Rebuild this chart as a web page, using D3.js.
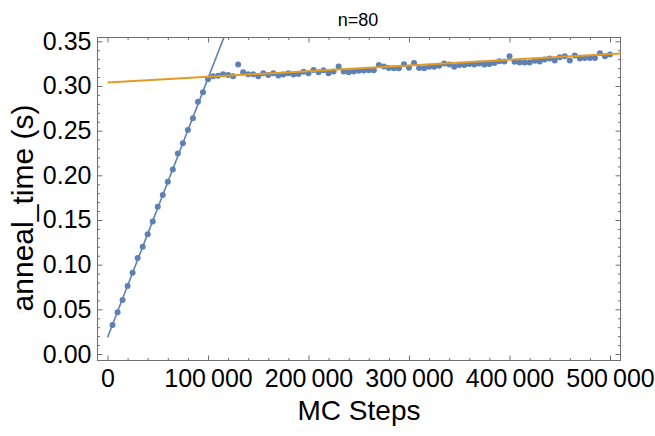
<!DOCTYPE html>
<html>
<head>
<meta charset="utf-8">
<script src="https://cdn.jsdelivr.net/npm/d3@7"></script>
<style>
  html, body { margin: 0; padding: 0; background: #fff; }
  svg { display: block; font-family: "Liberation Sans", Arial, sans-serif; }
</style>
</head>
<body>
<svg id="chart" width="655" height="436"></svg>
<script>
// ---- data ----
const title = "n=80";
const xLabel = "MC Steps";
const yLabel = "anneal_time (s)";

const mcSteps = [
  5000, 10000, 15000, 20000, 25000, 30000, 35000, 40000, 45000, 50000,
  55000, 60000, 65000, 70000, 75000, 80000, 85000, 90000, 95000, 100000,
  105000, 110000, 115000, 120000, 125000, 130000, 135000, 140000, 145000, 150000,
  155000, 160000, 165000, 170000, 175000, 180000, 185000, 190000, 195000, 200000,
  205000, 210000, 215000, 220000, 225000, 230000, 235000, 240000, 245000, 250000,
  255000, 260000, 265000, 270000, 275000, 280000, 285000, 290000, 295000, 300000,
  305000, 310000, 315000, 320000, 325000, 330000, 335000, 340000, 345000, 350000,
  355000, 360000, 365000, 370000, 375000, 380000, 385000, 390000, 395000, 400000,
  405000, 410000, 415000, 420000, 425000, 430000, 435000, 440000, 445000, 450000,
  455000, 460000, 465000, 470000, 475000, 480000, 485000, 490000, 495000, 500000
];
const annealTime = [
  0.0324, 0.0466, 0.0604, 0.0761, 0.0909, 0.1074, 0.1200, 0.1339, 0.1484, 0.1648,
  0.1779, 0.1927, 0.2066, 0.2245, 0.2360, 0.2506, 0.2640, 0.2822, 0.2931, 0.3076,
  0.3110, 0.3113, 0.3132, 0.3124, 0.3110, 0.3240, 0.3154, 0.3132, 0.3132, 0.3110,
  0.3143, 0.3124, 0.3143, 0.3117, 0.3129, 0.3143, 0.3129, 0.3135, 0.3158, 0.3143,
  0.3180, 0.3154, 0.3177, 0.3143, 0.3162, 0.3218, 0.3162, 0.3154, 0.3162, 0.3169,
  0.3173, 0.3177, 0.3177, 0.3236, 0.3218, 0.3202, 0.3199, 0.3199, 0.3244, 0.3205,
  0.3258, 0.3202, 0.3199, 0.3214, 0.3214, 0.3225, 0.3252, 0.3240, 0.3214, 0.3236,
  0.3236, 0.3247, 0.3240, 0.3252, 0.3240, 0.3247, 0.3258, 0.3277, 0.3274, 0.3333,
  0.3270, 0.3263, 0.3263, 0.3263, 0.3281, 0.3274, 0.3296, 0.3308, 0.3285, 0.3322,
  0.3333, 0.3285, 0.3341, 0.3308, 0.3314, 0.3314, 0.3314, 0.3367, 0.3333, 0.3352
];

// fitted lines (endpoints)
const steepFitX = [0, 130000];
const steepFitY = [0.0185, 0.3955];
const flatFitX = [0, 520000];
const flatFitY = [0.304, 0.337];

const xMajorTicks = [0, 100000, 200000, 300000, 400000, 500000];
const xMinorTicks = [20000, 40000, 60000, 80000, 120000, 140000, 160000, 180000,
  220000, 240000, 260000, 280000, 320000, 340000, 360000, 380000,
  420000, 440000, 460000, 480000];
const yMajorTicks = [0, 0.05, 0.10, 0.15, 0.20, 0.25, 0.30, 0.35];
const yMinorTicks = [0.01, 0.02, 0.03, 0.04, 0.06, 0.07, 0.08, 0.09,
  0.11, 0.12, 0.13, 0.14, 0.16, 0.17, 0.18, 0.19, 0.21, 0.22, 0.23, 0.24,
  0.26, 0.27, 0.28, 0.29, 0.31, 0.32, 0.33, 0.34];

// ---- layout ----
const frame = { left: 97.5, right: 620.5, top: 37.5, bottom: 360.5 };
const blue = "#5E81B5";
const orange = "#E19C24";
const frameColor = "#6e6e6e";

const svg = d3.select("#chart");

const x = d3.scaleLinear().domain([-9950, 510450]).range([frame.left, frame.right]);
const y = d3.scaleLinear().domain([-0.00727, 0.35425]).range([frame.bottom, frame.top]);

svg.append("defs").append("clipPath").attr("id", "clip")
  .append("rect")
  .attr("x", frame.left).attr("y", frame.top)
  .attr("width", frame.right - frame.left).attr("height", frame.bottom - frame.top);

const xFmt = d => d3.format(",")(d).replace(/,/g, "\u2009");
const yFmt = d3.format(".2f");

function styleAxis(g) {
  g.select(".domain").remove();
  g.selectAll(".tick line").attr("stroke", frameColor).attr("stroke-width", 1);
  g.selectAll(".tick text").attr("fill", "#000").attr("font-size", 25)
    .attr("font-family", "'Liberation Sans', Arial, sans-serif");
}

// bottom
svg.append("g").attr("transform", `translate(0,${frame.bottom})`)
  .call(d3.axisBottom(x).tickValues(xMajorTicks).tickSize(-5).tickPadding(9).tickFormat(xFmt))
  .call(styleAxis);
svg.append("g").attr("transform", `translate(0,${frame.bottom})`)
  .call(d3.axisBottom(x).tickValues(xMinorTicks).tickSize(-2.5).tickFormat(""))
  .call(styleAxis);
// top
svg.append("g").attr("transform", `translate(0,${frame.top})`)
  .call(d3.axisTop(x).tickValues(xMajorTicks).tickSize(-5).tickFormat(""))
  .call(styleAxis);
svg.append("g").attr("transform", `translate(0,${frame.top})`)
  .call(d3.axisTop(x).tickValues(xMinorTicks).tickSize(-2.5).tickFormat(""))
  .call(styleAxis);
// left
svg.append("g").attr("transform", `translate(${frame.left},0)`)
  .call(d3.axisLeft(y).tickValues(yMajorTicks).tickSize(-5).tickPadding(6).tickFormat(yFmt))
  .call(styleAxis);
svg.append("g").attr("transform", `translate(${frame.left},0)`)
  .call(d3.axisLeft(y).tickValues(yMinorTicks).tickSize(-2.5).tickFormat(""))
  .call(styleAxis);
// right
svg.append("g").attr("transform", `translate(${frame.right},0)`)
  .call(d3.axisRight(y).tickValues(yMajorTicks).tickSize(-5).tickFormat(""))
  .call(styleAxis);
svg.append("g").attr("transform", `translate(${frame.right},0)`)
  .call(d3.axisRight(y).tickValues(yMinorTicks).tickSize(-2.5).tickFormat(""))
  .call(styleAxis);

// frame
svg.append("rect")
  .attr("x", frame.left).attr("y", frame.top)
  .attr("width", frame.right - frame.left).attr("height", frame.bottom - frame.top)
  .attr("fill", "none").attr("stroke", frameColor).attr("stroke-width", 1);

const plot = svg.append("g").attr("clip-path", "url(#clip)");

// points
plot.selectAll("circle.pt").data(mcSteps.map((s, i) => [s, annealTime[i]]))
  .enter().append("circle").attr("class", "pt")
  .attr("cx", d => x(d[0])).attr("cy", d => y(d[1])).attr("r", 3)
  .attr("fill", blue);

// fit lines
const line = d3.line().x(d => x(d[0])).y(d => y(d[1]));
plot.append("path").datum(steepFitX.map((s, i) => [s, steepFitY[i]]))
  .attr("d", line).attr("fill", "none").attr("stroke", blue).attr("stroke-width", 1.6);
plot.append("path").datum(flatFitX.map((s, i) => [s, flatFitY[i]]))
  .attr("d", line).attr("fill", "none").attr("stroke", orange).attr("stroke-width", 2);

// labels
svg.append("text").attr("x", 358).attr("y", 26).attr("text-anchor", "middle")
  .attr("font-size", 18).attr("fill", "#000").text(title);
svg.append("text").attr("x", 359).attr("y", 420).attr("text-anchor", "middle")
  .attr("font-size", 28).attr("fill", "#000").text(xLabel);
svg.append("text").attr("transform", "translate(33,208) rotate(-90)").attr("text-anchor", "middle")
  .attr("font-size", 30).attr("fill", "#000").text(yLabel);
</script>
</body>
</html>
